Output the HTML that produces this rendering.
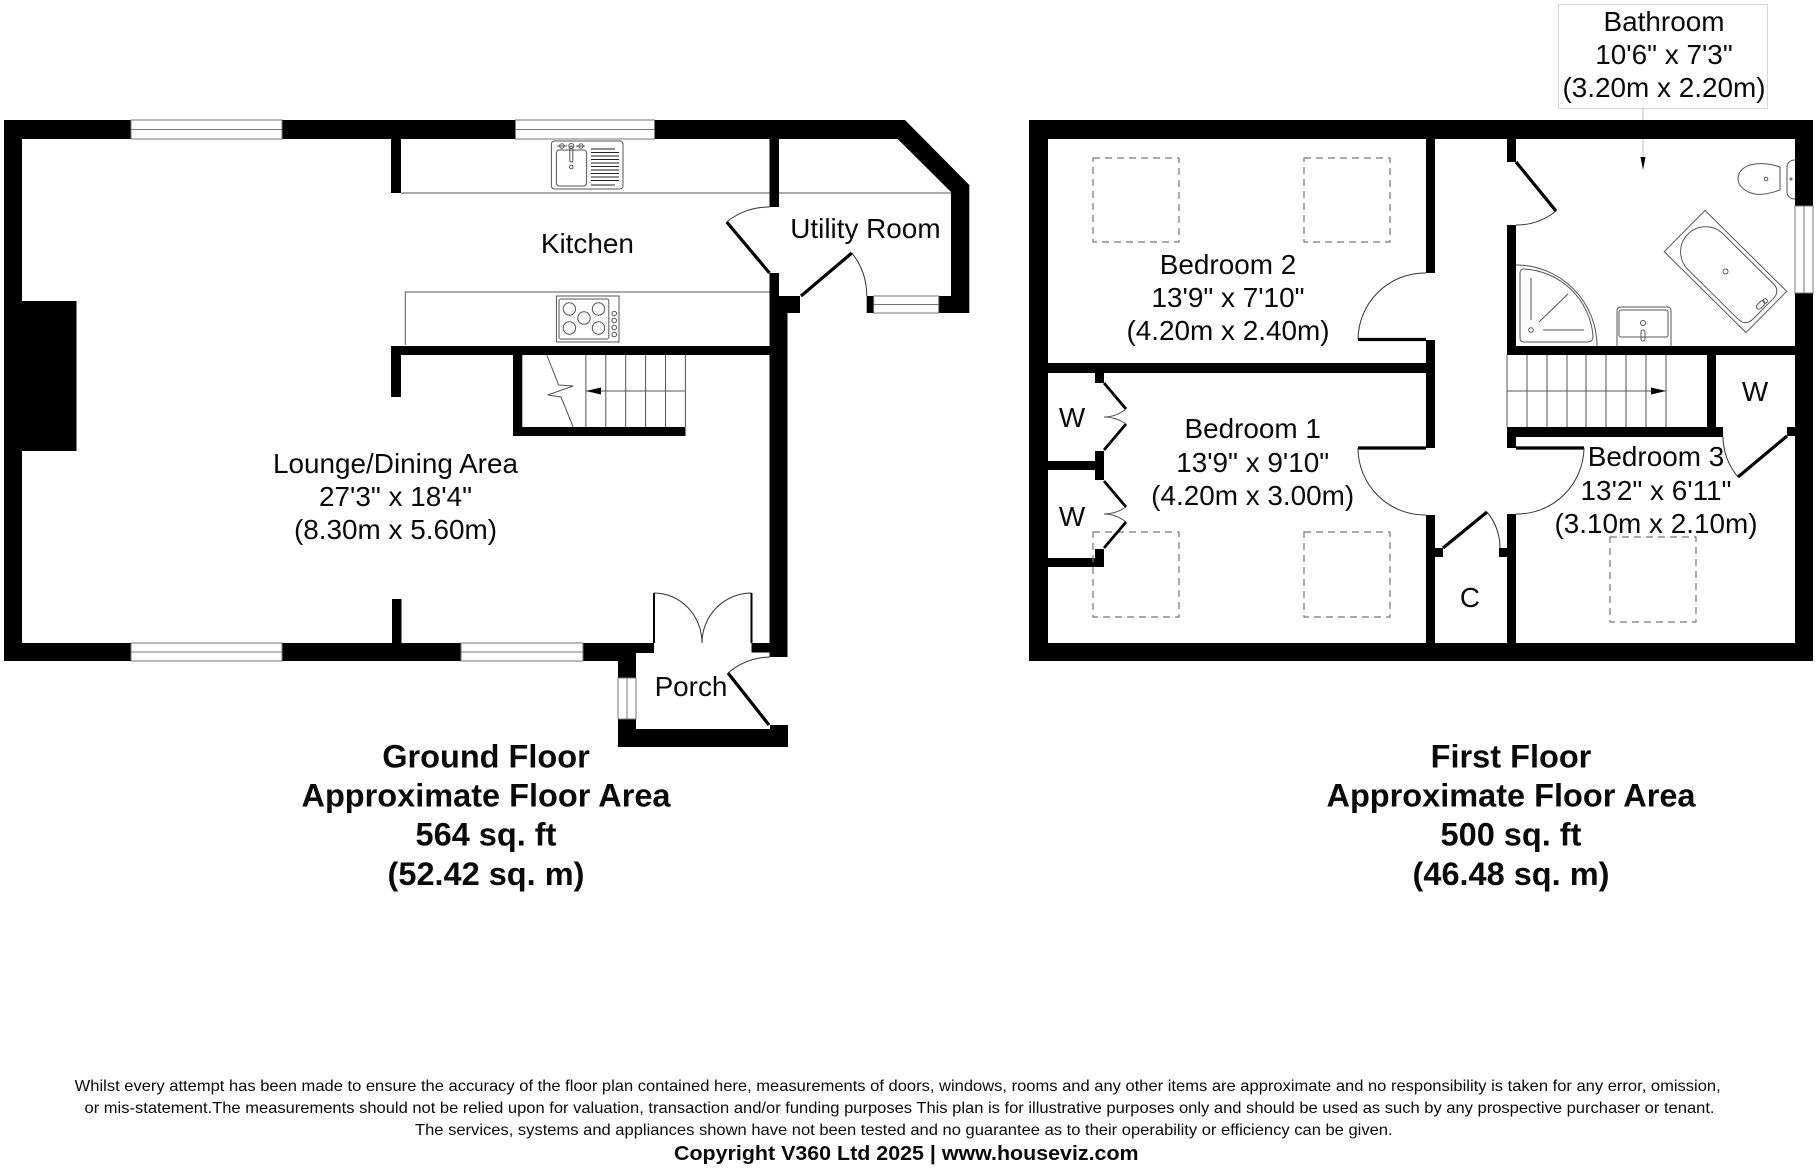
<!DOCTYPE html>
<html lang="en">
<head>
<meta charset="utf-8">
<title>Floor plan</title>
<style>
html,body{margin:0;padding:0;background:#fff;}
svg{display:block;}
text{font-family:"Liberation Sans",Arial,sans-serif;fill:#0a0a0a;}
.r{font-size:27.9px;text-anchor:middle;}
.h{font-size:32.5px;font-weight:bold;text-anchor:middle;}
.f{font-size:16px;}
.b{font-size:20px;font-weight:bold;}
.t{fill:none;stroke:#555;stroke-width:1;}
.d{fill:none;stroke:#333;stroke-width:1;}
.l{stroke:#000;stroke-width:3.2;fill:none;}
.w{fill:#fff;stroke:#777;stroke-width:1;}
.s{fill:none;stroke:#777;stroke-width:1.2;stroke-dasharray:7 5;}
.g{stroke:#777;stroke-width:1;fill:none;}
</style>
</head>
<body>
<svg width="1819" height="1168" viewBox="0 0 1819 1168" xmlns="http://www.w3.org/2000/svg">
<rect width="1819" height="1168" fill="#fff"/>

<!-- GROUND FLOOR walls -->
<g fill="#000">
<path d="M4 120H905L969.300 185V313H938.700V296H951V192L897.700 139H22V643H654V653H636V678H618V661H4Z"/>
<rect x="22" y="301" width="54.500" height="150"/>
<rect x="391" y="139" width="10" height="54"/>
<rect x="391" y="346" width="379" height="9"/>
<rect x="391" y="346" width="10" height="51"/>
<rect x="392" y="599" width="9.500" height="44"/>
<rect x="769.500" y="139" width="9.500" height="68"/>
<rect x="769.500" y="273" width="9.500" height="23"/>
<rect x="769.500" y="296" width="30.500" height="17"/>
<rect x="769.500" y="313" width="18" height="344"/>
<rect x="751.500" y="643" width="19" height="9.500"/>
<rect x="866.700" y="296" width="7" height="17"/>
<rect x="513" y="355" width="9.300" height="81"/>
<rect x="513" y="427" width="172.500" height="9"/>
<rect x="618" y="719" width="18" height="28"/>
<path d="M618 729H770V725H788V747H618Z"/>
</g>

<!-- ground windows -->
<g>
<rect class="w" x="131" y="120" width="151" height="19"/><path class="g" d="M131 129.500H282"/>
<rect class="w" x="515.500" y="120" width="139" height="19"/><path class="g" d="M515.500 129.500H654.500"/>
<rect class="w" x="131" y="643" width="151" height="18"/><path class="g" d="M131 652H282"/>
<rect class="w" x="461" y="643" width="122" height="18"/><path class="g" d="M461 652H583"/>
<rect class="w" x="873.700" y="296" width="65" height="17"/><path class="g" d="M873.700 304.500H938.700"/>
<rect class="w" x="618" y="678" width="18" height="41"/><path class="g" d="M627 678V719"/>
</g>

<!-- kitchen counters -->
<path class="t" d="M401 193H769.500M779 193H951M405.300 345V292H769.500"/>

<!-- sink -->
<g class="t">
<rect x="551.400" y="141" width="71.600" height="48" rx="3"/>
<rect x="556.400" y="150" width="30.200" height="36" rx="3"/>
<path d="M591 149H615M591 152.500H619M591 156H619M591 159.500H619M591 163H619M591 166.500H619M591 170H619M591 173.500H619M591 177H619M591 180.500H619M591 185H615" stroke="#222"/>
<circle cx="561.800" cy="146" r="2.200"/><circle cx="571.300" cy="146" r="2.500"/><circle cx="581" cy="146" r="2.200"/>
<path d="M557 146H567M576 146H585"/>
<rect x="569.800" y="146" width="3" height="16" rx="1.500"/>
<circle cx="571.300" cy="167" r="1.800"/>
</g>

<!-- hob -->
<g class="t">
<rect x="556.400" y="296" width="62.600" height="46"/>
<rect x="559" y="299" width="49.800" height="40" rx="2"/>
<circle cx="569.400" cy="309" r="6.200"/><circle cx="598.500" cy="309" r="6.200"/>
<circle cx="584" cy="318" r="6.200"/>
<circle cx="569.400" cy="328" r="6.200"/><circle cx="598.500" cy="328" r="6.200"/>
<circle cx="614.200" cy="313.500" r="2.300"/><circle cx="614.200" cy="320.500" r="2.300"/><circle cx="614.200" cy="327.500" r="2.300"/><circle cx="614.200" cy="334.500" r="2.300"/>
</g>

<!-- ground stairs -->
<path class="t" d="M585.900 355V427M605.800 355V427M625.700 355V427M645.600 355V427M665.500 355V427M685.400 355V427M585.900 391H685.400"/>
<path d="M585.900 391L601 387.500V394.500Z" fill="#000"/>
<path class="t" d="M546.800 355L558.700 385L573.200 386L547.600 395L561 397L573.200 427"/>

<!-- ground doors -->
<path class="l" d="M726.700 222L769.500 273M851.800 253L801 296M728 673L769 725"/>
<path class="l" style="stroke-width:2" d="M654 593V643M751.500 593V643"/>
<path class="d" d="M769.500 207A66 66 0 0 0 726.700 222M851.800 253A66 66 0 0 1 866.700 296M770 657A67 67 0 0 0 728 673M654 593A48 50 0 0 1 702 643M751.500 593A49.500 50 0 0 0 702 643"/>

<!-- FIRST FLOOR walls -->
<g fill="#000">
<path fill-rule="evenodd" d="M1029 120H1813V206H1795V139H1048V643H1795V293H1813V661H1029Z"/>
<rect x="1426" y="139" width="9" height="134"/>
<rect x="1426" y="340" width="9" height="108"/>
<rect x="1426" y="515" width="9" height="128"/>
<rect x="1048" y="363" width="378" height="10"/>
<rect x="1095" y="373" width="9" height="10"/>
<rect x="1095" y="451" width="9" height="29"/>
<rect x="1048" y="461" width="47" height="9"/>
<rect x="1095" y="549" width="9" height="18"/>
<rect x="1048" y="558" width="56" height="9"/>
<rect x="1435" y="548" width="8" height="9"/>
<rect x="1499" y="548" width="8" height="9"/>
<rect x="1507" y="514" width="9" height="129"/>
<rect x="1507" y="139" width="9" height="23"/>
<rect x="1507" y="225" width="9" height="121"/>
<rect x="1507" y="346" width="288" height="9"/>
<rect x="1707" y="355" width="9" height="72"/>
<rect x="1507" y="427" width="216" height="10"/>
<rect x="1507" y="437" width="9" height="11"/>
<rect x="1787" y="427" width="8" height="9"/>
</g>

<!-- first floor window -->
<rect class="w" x="1795" y="206" width="18" height="87"/><path class="g" d="M1804 206V293"/>

<!-- skylights -->
<rect class="s" x="1093" y="158" width="86" height="84"/>
<rect class="s" x="1304" y="158" width="86" height="84"/>
<rect class="s" x="1093" y="532" width="86" height="85"/>
<rect class="s" x="1304" y="532" width="86" height="85"/>
<rect class="s" x="1610" y="537" width="86" height="85"/>

<!-- first floor doors -->
<path class="l" d="M1358 339.500H1426M1358 448H1426M1516 448H1584M1443 548L1487 512M1516 162L1556 211M1738 477L1787 436"/>
<path class="d" d="M1426 273A67 67 0 0 0 1358 339.500M1358 448A67 67 0 0 0 1426 515M1487 512A57 57 0 0 1 1500 548M1556 211A63 63 0 0 1 1516 225M1584 448A67 67 0 0 1 1516 514M1723 437A64 64 0 0 0 1738 477"/>

<!-- wardrobes bi-fold -->
<path class="l" style="stroke-width:2.800" d="M1104 383L1126 409M1126 424L1104 450M1104 481L1126 507M1126 522L1104 548"/>
<path class="t" d="M1126 409Q1116 417 1104 417Q1116 417 1126 424M1126 507Q1116 514 1104 514Q1116 514 1126 522"/>

<!-- first floor stairs -->
<path class="t" d="M1507 355V427M1527 355V427M1547 355V427M1567 355V427M1586 355V427M1606 355V427M1626 355V427M1646 355V427M1666 355V427M1507 391H1666"/>
<path d="M1666 391L1651 387.500V394.500Z" fill="#000"/>

<!-- toilet -->
<g class="t">
<path d="M1780 167L1780 190C1770 194 1760 195 1755 194C1745 192 1738 186 1738 179C1738 171 1745 165 1755 164C1762 163 1772 164 1780 167Z"/>
<path d="M1795 160C1790 160 1787 163 1787 167L1787 192C1787 196 1790 199 1795 199"/>
<circle cx="1766" cy="179" r="1.800"/>
<circle cx="1791" cy="179" r="1"/>
</g>

<!-- bath -->
<g class="t" transform="translate(1725.500 271.500) rotate(44.700)">
<rect x="-57.500" y="-29" width="115" height="58"/>
<path d="M-28 -25L42 -25Q53 -25 53 -14L53 14Q53 25 42 25L-28 25A25 25 0 0 1 -53 0A25 25 0 0 1 -28 -25Z"/>
<circle cx="0" cy="0" r="2.500"/>
<rect x="44" y="-4" width="10" height="5" rx="2.500" transform="rotate(-90 49 -1)"/>
<circle cx="49" cy="-7" r="2.200"/>
</g>

<!-- shower -->
<g class="t">
<path d="M1516 265A81 81 0 0 1 1597 346"/>
<path d="M1524 269Q1520 269 1520 273L1520 338Q1520 342 1524 342L1587 342Q1593 342 1593 336A73 73 0 0 0 1524 269Z"/>
<path d="M1531 278V320M1543 330H1584M1539 322L1568 294"/>
<circle cx="1531" cy="330" r="2.300"/>
</g>

<!-- basin -->
<g class="t">
<path d="M1617 346V311Q1617 307 1621 307H1667Q1671 307 1671 311V346"/>
<rect x="1619" y="310" width="49" height="27" rx="2"/>
<circle cx="1643" cy="323" r="2.500"/>
<rect x="1641" y="330" width="4" height="11" rx="2"/>
</g>

<!-- bathroom label + leader -->
<rect x="1558.500" y="4.500" width="209" height="104" fill="#fff" stroke="#d8d8d8" stroke-width="1"/>
<path d="M1643 108V120" stroke="#bbb" stroke-width="1"/>
<path d="M1643 139V157" stroke="#bbb" stroke-width="1"/>
<path d="M1640.500 157H1645.500L1643 170Z" fill="#000"/>

<!-- room labels -->
<text class="r" x="395.500" y="473">Lounge/Dining Area</text>
<text class="r" x="395.500" y="506">27'3" x 18'4"</text>
<text class="r" x="395.500" y="539">(8.30m x 5.60m)</text>
<text class="r" x="587.400" y="253">Kitchen</text>
<text class="r" x="865.400" y="238">Utility Room</text>
<text class="r" x="691" y="696">Porch</text>

<text class="r" x="1228" y="274">Bedroom 2</text>
<text class="r" x="1228" y="307">13'9" x 7'10"</text>
<text class="r" x="1228" y="340">(4.20m x 2.40m)</text>

<text class="r" x="1252.700" y="438">Bedroom 1</text>
<text class="r" x="1252.700" y="472">13'9" x 9'10"</text>
<text class="r" x="1252.700" y="505">(4.20m x 3.00m)</text>

<text class="r" x="1664" y="31">Bathroom</text>
<text class="r" x="1664" y="64">10'6" x 7'3"</text>
<text class="r" x="1664" y="97">(3.20m x 2.20m)</text>

<text class="r" x="1656" y="466">Bedroom 3</text>
<text class="r" x="1656" y="500">13'2" x 6'11"</text>
<text class="r" x="1656" y="533">(3.10m x 2.10m)</text>

<text class="r" x="1072" y="427">W</text>
<text class="r" x="1072" y="526">W</text>
<text class="r" x="1755" y="401">W</text>
<text class="r" x="1470" y="607">C</text>

<!-- headings -->
<text class="h" x="486" y="767.700">Ground Floor</text>
<text class="h" x="486" y="806.700">Approximate Floor Area</text>
<text class="h" x="486" y="845.700">564 sq. ft</text>
<text class="h" x="486" y="885">(52.42 sq. m)</text>

<text class="h" x="1511" y="767.700">First Floor</text>
<text class="h" x="1511" y="806.700">Approximate Floor Area</text>
<text class="h" x="1511" y="845.700">500 sq. ft</text>
<text class="h" x="1511" y="885">(46.48 sq. m)</text>

<!-- footer -->
<text class="f" x="74.700" y="1091" textLength="1646" lengthAdjust="spacingAndGlyphs">Whilst every attempt has been made to ensure the accuracy of the floor plan contained here, measurements of doors, windows, rooms and any other items are approximate and no responsibility is taken for any error, omission,</text>
<text class="f" x="84.500" y="1113" textLength="1630" lengthAdjust="spacingAndGlyphs">or mis-statement.The measurements should not be relied upon for valuation, transaction and/or funding purposes This plan is for illustrative purposes only and should be used as such by any prospective purchaser or tenant.</text>
<text class="f" x="415" y="1135" textLength="977.600" lengthAdjust="spacingAndGlyphs">The services, systems and appliances shown have not been tested and no guarantee as to their operability or efficiency can be given.</text>
<text class="b" x="674" y="1160" textLength="464.600" lengthAdjust="spacingAndGlyphs">Copyright V360 Ltd 2025 | www.houseviz.com</text>
</svg>
</body>
</html>
